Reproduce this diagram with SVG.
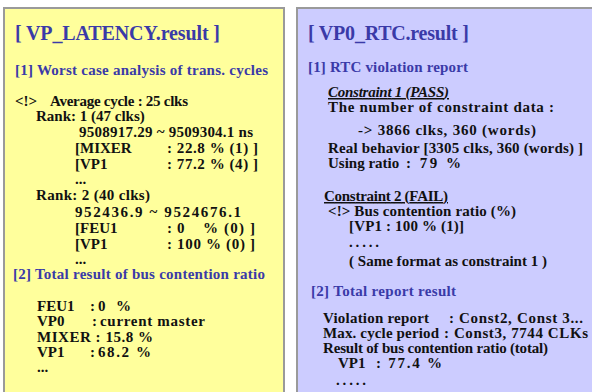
<svg xmlns="http://www.w3.org/2000/svg" width="592" height="392" viewBox="0 0 592 392">
<style>
text{font-family:"Liberation Serif","Times New Roman",serif;font-weight:bold;fill:#111;font-size:15px}
.t{fill:#3a3aa8;font-size:20px}
.h{fill:#3a3aa8;font-size:15px}
.u{text-decoration:underline}
.i{font-style:italic}
</style>
<rect x="0" y="0" width="592" height="392" fill="#ffffff"/>
<g id="latency">
<rect x="4" y="8" width="280" height="390" fill="#ffff9c" stroke="#9a9a9a" stroke-width="2"/>
<text class="t" x="15" y="40" textLength="205" lengthAdjust="spacing">[ VP_LATENCY.result ]</text>
<text class="h" x="15" y="75" textLength="253" lengthAdjust="spacing">[1] Worst case analysis of trans. cycles</text>
<text x="15" y="106">&lt;!&gt;</text><text x="50" y="106" textLength="138" lengthAdjust="spacing">Average cycle : 25 clks</text>
<text x="36" y="121">Rank: 1 (47 clks)</text>
<text x="79" y="137" textLength="174" lengthAdjust="spacing">9508917.29 ~ 9509304.1 ns</text>
<text x="75" y="153">[MIXER</text><text x="167" y="153" textLength="91" lengthAdjust="spacing">: 22.8 % (1) ]</text>
<text x="75" y="169">[VP1</text><text x="167" y="169" textLength="91" lengthAdjust="spacing">: 77.2 % (4) ]</text>
<text x="75" y="184">...</text>
<text x="36" y="200" textLength="114" lengthAdjust="spacing">Rank: 2 (40 clks)</text>
<text x="75" y="217" textLength="166" lengthAdjust="spacing">952436.9 ~ 9524676.1</text>
<text x="75" y="233">[FEU1</text><text x="167" y="233">:</text><text x="177" y="233">0</text><text x="203" y="233" textLength="52" lengthAdjust="spacing">% (0) ]</text>
<text x="75" y="249">[VP1</text><text x="167" y="249" textLength="88" lengthAdjust="spacing">: 100 % (0) ]</text>
<text x="75" y="264">...</text>
<text class="h" x="13" y="279" textLength="252" lengthAdjust="spacing">[2] Total result of bus contention ratio</text>
<text x="37" y="311">FEU1</text><text x="90" y="311">:</text><text x="98" y="311" textLength="33" lengthAdjust="spacing">0 %</text>
<text x="37" y="326">VP0</text><text x="92" y="326">:</text><text x="100" y="326" textLength="105" lengthAdjust="spacing">current master</text>
<text x="37" y="342" textLength="116" lengthAdjust="spacing">MIXER : 15.8  %</text>
<text x="37" y="357">VP1</text><text x="90" y="357">:</text><text x="98" y="357" textLength="53" lengthAdjust="spacing">68.2 %</text>
<text x="37" y="372">...</text>
</g>
<g id="rtc">
<rect x="297" y="8" width="300" height="390" fill="#ccccff" stroke="#9a9a9a" stroke-width="2"/>
<text class="t" x="308" y="40" textLength="161" lengthAdjust="spacing">[ VP0_RTC.result ]</text>
<text class="h" x="308" y="72" textLength="160" lengthAdjust="spacing">[1] RTC violation report</text>
<text class="i u" x="328" y="97" textLength="121" lengthAdjust="spacing">Constraint 1 (PASS)</text>
<text x="328" y="112" textLength="226" lengthAdjust="spacing">The number of constraint data :</text>
<text x="358" y="135" textLength="178" lengthAdjust="spacing">-&gt; 3866 clks, 360 (words)</text>
<text x="328" y="153" textLength="255" lengthAdjust="spacing">Real behavior [3305 clks, 360 (words) ]</text>
<text x="328" y="168">Using ratio</text><text x="406" y="168" textLength="55" lengthAdjust="spacing">: 79 %</text>
<text class="u" x="324" y="201" textLength="124" lengthAdjust="spacing">Constraint 2 (FAIL)</text>
<text x="328" y="216" textLength="188" lengthAdjust="spacing">&lt;!&gt; Bus contention ratio (%)</text>
<text x="349" y="231" textLength="115" lengthAdjust="spacing">[VP1 : 100 % (1)]</text>
<text x="349" y="247" textLength="30" lengthAdjust="spacing">.....</text>
<text x="349" y="266" textLength="198" lengthAdjust="spacing">( Same format as constraint 1 )</text>
<text class="h" x="311" y="296" textLength="145" lengthAdjust="spacing">[2] Total report result</text>
<text x="323" y="323" textLength="106" lengthAdjust="spacing">Violation report</text><text x="449" y="323" textLength="134" lengthAdjust="spacing">: Const2, Const 3...</text>
<text x="323" y="338" textLength="116" lengthAdjust="spacing">Max. cycle period</text><text x="444" y="338" textLength="144" lengthAdjust="spacing">: Const3, 7744  CLKs</text>
<text x="323" y="353" textLength="225" lengthAdjust="spacing">Result of bus contention ratio (total)</text>
<text x="338" y="368">VP1</text><text x="376" y="368" textLength="66" lengthAdjust="spacing">: 77.4 %</text>
<text x="336" y="385" textLength="30" lengthAdjust="spacing">.....</text>
</g>
<g id="connectors"></g>
</svg>
